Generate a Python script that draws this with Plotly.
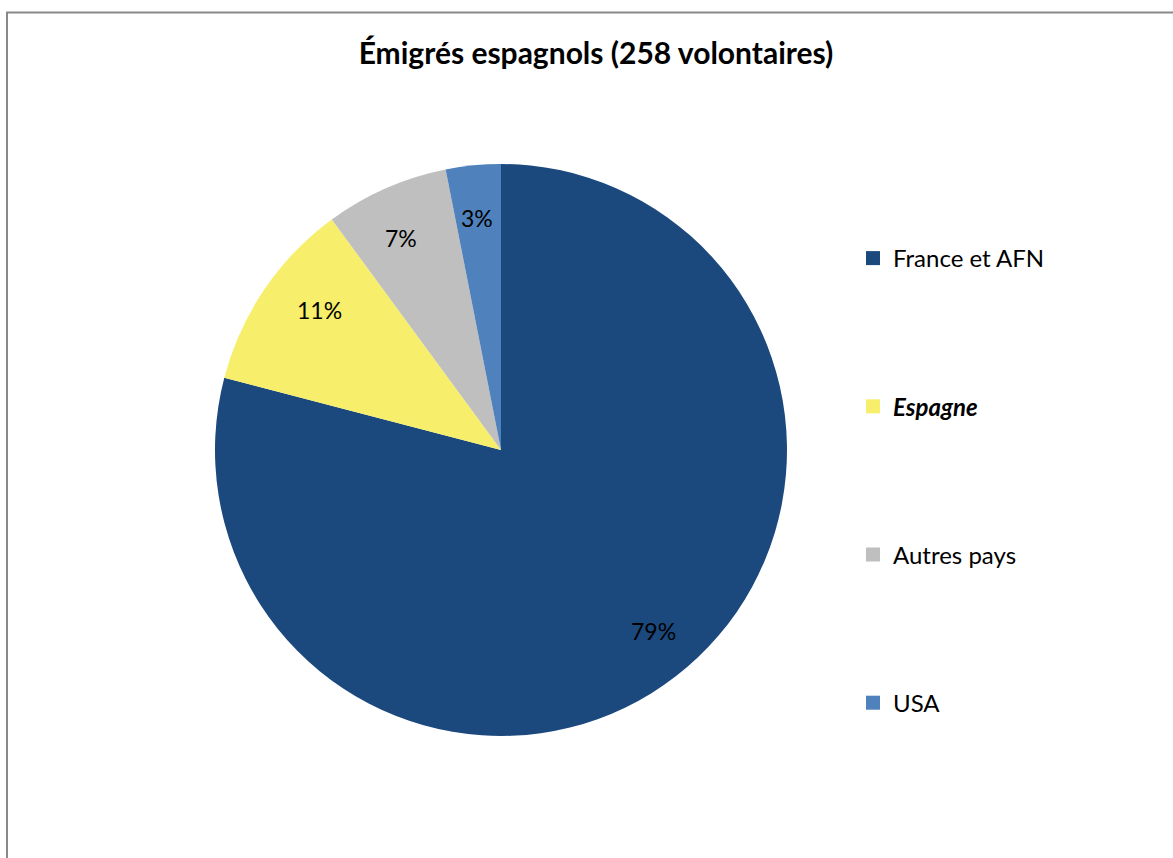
import math
import plotly.graph_objects as go

# Données (258 volontaires)
labels = ["France et AFN", "Espagne", "Autres pays", "USA"]
legend_names = ["France et AFN", "<b><i>Espagne</i></b>", "Autres pays", "USA"]
counts = [204, 28, 18, 8]
colors = ["#1B487D", "#F7EF6B", "#BFBFBF", "#4F81BD"]

W, H = 1173, 858
FONT = "Lato"

# zone du camembert (pixels de la page)
cx, cy, R = 501, 450, 286
dom_x = [(cx - R) / W, (cx + R) / W]
dom_y = [1 - (cy + R) / H, 1 - (cy - R) / H]

fig = go.Figure()

fig.add_trace(go.Pie(
    labels=labels,
    values=counts,
    sort=False,
    direction="clockwise",
    rotation=0,
    marker=dict(colors=colors, line=dict(width=0)),
    textinfo="none",
    hovertemplate="%{label}: %{value} (%{percent})<extra></extra>",
    domain=dict(x=dom_x, y=dom_y),
    showlegend=False,
))

# étiquettes de pourcentage placées vers l'extérieur des parts, comme Excel
total = sum(counts)
start = 0.0
for v in counts:
    mid = (start + v / 2) / total * 2 * math.pi
    start += v
    r = 0.87 * R
    px_ = cx + r * math.sin(mid)
    py_ = cy - r * math.cos(mid)
    fig.add_annotation(x=px_ / W, y=1 - py_ / H, xref="paper", yref="paper",
                       text=f"{round(100 * v / total)}%", showarrow=False,
                       font=dict(family=FONT, size=23, color="black"))

# entrées de légende espacées comme dans l'original
for i, (name, col) in enumerate(zip(legend_names, colors)):
    fig.add_trace(go.Scatter(
        x=[None], y=[None], mode="markers", name=name,
        marker=dict(symbol="square", size=14, color=col),
        legendgroup=f"g{i}", hoverinfo="skip",
    ))

# cadre gris du graphique
fig.add_shape(type="rect", xref="paper", yref="paper",
              x0=7 / W, y0=-0.02, x1=1.02, y1=1 - 12.5 / H,
              line=dict(color="#898989", width=2), fillcolor="rgba(0,0,0,0)")

fig.update_layout(
    width=W, height=H,
    margin=dict(l=0, r=0, t=0, b=0),
    paper_bgcolor="white", plot_bgcolor="white",
    font=dict(family=FONT, size=24, color="black"),
    title=dict(text="<b>Émigrés espagnols (258 volontaires)</b>",
               x=596 / W, xanchor="center", y=1 - 53 / H, yanchor="middle",
               font=dict(family=FONT, size=30, color="black")),
    xaxis=dict(visible=False), yaxis=dict(visible=False),
    legend=dict(x=853 / W, xanchor="left", y=1 - 236 / H, yanchor="top",
                tracegroupgap=114, bgcolor="rgba(0,0,0,0)",
                font=dict(family=FONT, size=24, color="black")),
)

fig.write_html("out.html", config={"displayModeBar": False},
               post_script="document.body.style.margin='0';")
